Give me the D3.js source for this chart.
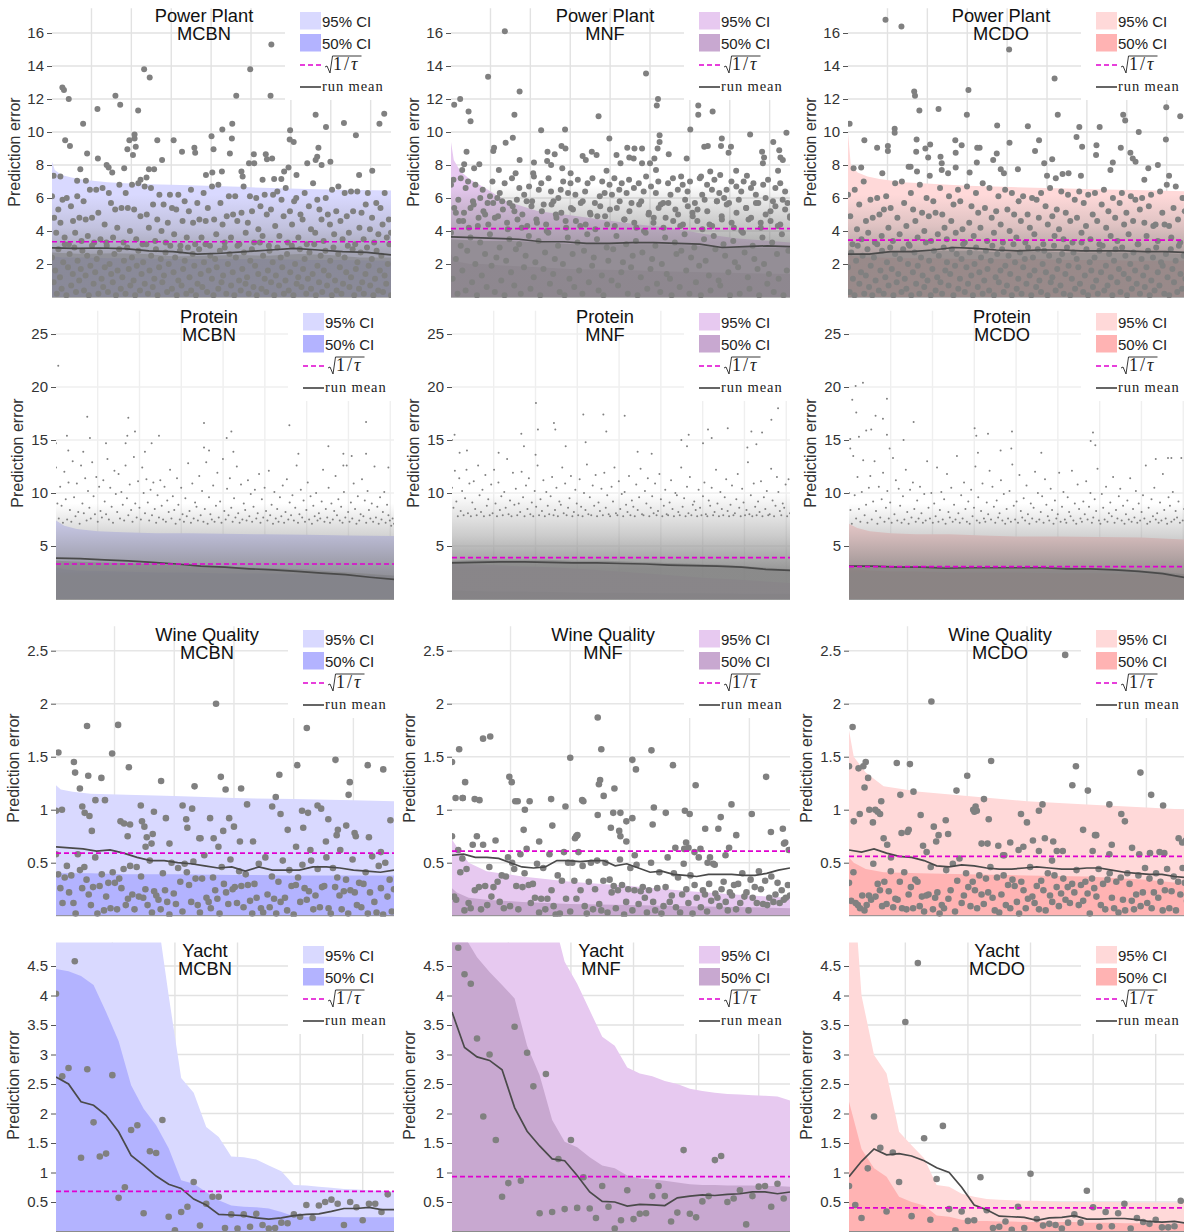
<!DOCTYPE html>
<meta charset="utf-8">
<style>
html, body { margin: 0; background: #fff; }
svg { display: block; }
.tick text { font: 15px "Liberation Sans", Arial, sans-serif; fill: #333; }
.tick line { stroke: #555; }
.title { font: 18.3px "Liberation Sans", Arial, sans-serif; fill: #111; text-anchor: middle; }
.ylabel { font: 16px "Liberation Sans", Arial, sans-serif; fill: #333; text-anchor: middle; }
.ci { font: 15px "Liberation Sans", Arial, sans-serif; fill: #222; }
.rm { font: 14.5px "Liberation Serif", serif; fill: #222; letter-spacing: .9px; }
.tau { font: 18px "Liberation Serif", serif; fill: #222; letter-spacing: 2px; }
</style>
<body>
<svg id="chart" width="1184" height="1232"></svg>
<script src="https://d3js.org/d3.v7.min.js"></script>
<script>
"use strict";

// Values. Where points overplot into a solid mass they can't be
// read one by one, so that mass is kept as a density shade (its upper edge and the levels
// where it thins out), and only points that can be told apart, plus a sample of the rest, are listed.

var methods = ["MCBN", "MNF", "MCDO"];
var datasets = ["Power Plant", "Protein", "Wine Quality", "Yacht"];

// ---- Power Plant
var ppKnots = [1, 8, 25, 50, 80, 140, 220, 300, 390, 470, 550, 640, 720, 851];
var ppMcbnHi = [8.2, 7.7, 7.4, 7.25, 7.1, 6.95, 6.85, 6.8, 6.75, 6.68, 6.6, 6.55, 6.5, 6.45];
var ppMcbnMid = [2.5, 2.45, 2.4, 2.4, 2.4, 2.35, 2.35, 2.3, 2.3, 2.3, 2.3, 2.25, 2.25, 2.2];
var ppMnfHi = [9.4, 8.3, 7.6, 7.1, 6.7, 5.8, 5.2, 4.95, 4.65, 4.4, 4.2, 3.8, 3.55, 3.3];
var ppMnfMid = [2.6, 2.3, 2.1, 2, 2, 1.9, 1.8, 1.7, 1.65, 1.6, 1.55, 1.5, 1.45, 1.4];
var ppMcdoHi = [10, 8, 7.55, 7.3, 7.15, 6.95, 6.85, 6.75, 6.68, 6.62, 6.58, 6.52, 6.48, 6.4];
var ppMcdoMid = [2.6, 2.5, 2.45, 2.4, 2.4, 2.35, 2.35, 2.3, 2.3, 2.3, 2.25, 2.25, 2.2, 2.2];
var ppMcbnMean = [2.98, 2.95, 2.97, 2.93, 2.8, 2.75, 2.6, 2.65, 2.75, 2.85, 2.95, 2.85, 2.75, 2.7, 2.55];
var ppMnfMean = [3.65, 3.6, 3.55, 3.5, 3.35, 3.35, 3.25, 3.25, 3.3, 3.3, 3.25, 3.2, 3, 3.05, 3.1, 3.05];
var ppMcdoMean = [2.6, 2.6, 2.75, 2.75, 2.85, 3, 2.95, 2.85, 2.8, 2.85, 2.85, 2.8, 2.8, 2.8, 2.75, 2.75, 2.7];
var ppTau = [3.35, 4.15, 3.45];
var ppMcbnLow = [2.7, 2.6, 2.65, 2.6, 2.45, 2.5, 2.55, 2.5, 2.6, 2.55, 2.4, 2.4];
var ppMnfLow = [3.5, 3.4, 3.4, 3.3, 3.2, 3.2, 3.2, 3.2, 3.1, 3, 3, 3];
var ppMcdoLow = [2.6, 2.7, 2.8, 2.8, 2.8, 2.7, 2.8, 2.7, 2.7, 2.7, 2.7, 2.6];
var ppMcbnFade = [2.6, 4.2, 6.2];
var ppMnfFade = [3.3, 5.4, 6.8];
var ppMcdoFade = [2.7, 4.3, 6.2];

var ppMcbnX = [551,549,498,232,246,27,31,43,160,172,115,217,463,79,34,46,89,116,190,195,208,208,211,204,265,306,277,327,358,360,401,406,428,453,452,447,507,495,508,537,540,553,597,598,607,662,688,733,763,822,834,669,666,662,677,641,699,594,804,771,152,138,72,5,22,64,86,143,182,244,257,223,238,387,403,427,476,479,583,614,558,576,529];
var ppMcbnY = [15.3,12.2,13.8,13.8,13.3,12.7,12.55,12,12.2,11.65,11.4,11.3,12.2,10.5,9.5,9.15,8.7,8.4,8.95,9.5,9.85,9.6,9.1,8.6,9.5,9.5,8.3,8.8,9.05,8.75,9.75,8.95,10.15,10.5,9.6,8.7,8.65,8.1,8.1,8.65,8.35,8.4,9.55,10.1,9.4,11.05,10.3,10.55,9.8,10.5,11.1,9.05,8.5,8.3,8,8.1,8.2,7.85,7.65,7.4,7.55,8,7.75,7.35,7.3,7.05,7.05,7.85,7.8,7.75,7.75,7.1,7.25,7.4,7.55,7.6,7.6,7.3,7.6,7.4,7.15,7.15,7.1];
var ppMcbnCloud = [6.1,4.8,3.9,5.3,4.5,5.9,3.6,6,3.2,5.5,4.6,3.9,6.1,4.8,3.4,5.8,4.7,3.7,6.5,4.8,3.3,6.5,5.1,3.5,6.6,4.4,3.1,6.3,5.7,3.6,5.3,4.2,6.8,5.4,3.3,6.3,5.4,4,6.8,5.3,3.5,6.9,4.9,3.2,6.7,5,4.2,6.6,5.6,3.4,4.7,6.2,4,5.6,3.3,4.5,6.2,5.4,3.8,5.3,6.2,3.1,4.6,5.8,3.6,5.2,6.5,4.5,3.2,5.7,4.7,3.6,6.3,4.6,5.4,3.1,6.7,4.7,3.8,6.8,5.7,4.4,3.3,4.9,6.1,3.6,5,6.1,4.6,3.2,5.1,6.7,3.9,4.5,6.1,5.2,3.3,6,4.1,5.5,3.7,6.2,5,3.1,5.3,6.2,4.3,6.4,3.7,5.9,4.9,6.6,3.3,5.2,4.4,5.8,6,3.6,5,4.7,6.3,3.2,5.5,4.1,6.9,3.9,5.9,5.3,4.7,3.4,6,5,4.4,6.5,3.8,5.2,6.7,4.6,3.5,6.3,4.9,3.9,6.4,5.2,3.2,6.4,4.2,5.1,3.5,5.6,6.3,4.1,4.8,3.3,5.7,3.8,5.4,4.4,6.3,3.6,4.7,3.9];
var ppMcbnCore = [2.4,0.9,1.6,0.2,2.9,1.2,0.5,2.1,3.2,0.1,1.8,2.6,0.7,1.4,3,0.3,2.2,1,1.7,2.8,0.4,1.3,2.5,0.1,1.9,3.1,0.8,1.5,2.3,0.2,2.7,1.1,0.6,1.8,3.3,0.3,2,1.4,0.9,2.6,0.1,1.6,2.9,0.5,1.2,2.2,0.2,3,1.7,0.7,2.4,1,0.1,1.9,2.8,0.4,1.4,2.1,0.8,3.2,0.2,1.6,2.5,0.6,1.1,2.9,0.1,1.8,2.3,0.9,1.3,2.7,0.3,2,3.1,0.5,1.5,2.4,0.1,1,2.8,0.7,1.7,2.2,0.2,3,1.2,0.4,2.6,1.9,0.1,0.8,2.9,1.4,0.6,2.1,3.2,0.3,1.6,2.5,1.1,0.1,2.3,1.8,0.5,2.8,0.9,1.3,3,0.2,2,2.6,0.7,1.5,0.1,2.4,3.1,1,0.4,1.7,2.7,0.8,1.2,0.2,2.2,2.9,0.6,1.9,0.1,1.4,3.3,0.5,2.5,1.1,0.3,1.6,2.8,0.9,2.1,0.1,1.3,3,0.7,2.4,1.8,0.2,1,2.6,0.4,1.5,3.1,0.1,2,0.8,1.2,2.9,0.6,1.7,2.3,0.2,1.1,2.7,0.5,1.4,3.2,0.1,1.9,0.9,2.5,0.3,1.6,2.8,0.7,1.3,2.2,0.1,3,1,0.4,2.6,1.8,0.2,0.8,2.4,1.5,3.1,0.6,1.2,2.9,0.1,1.7,2.1,0.5,2.7,0.9,0.2,1.4,3,1.9,0.7,2.3,0.1,1.1,2.8,0.4,1.6,2.5,0.3,1.3,0.8,2,3.2,0.1];

var ppMnfX = [136,94,173,490,520,517,24,9,45,50,160,227,287,371,398,621,621,657,601,680,751,842,524,524,519,156,138,40,109,107,278,288,173,209,243,242,261,252,331,339,354,366,416,426,443,461,448,459,480,480,500,511,547,592,636,645,678,703,697,781,786,783,809,824,827,833,821,34,29,59,72,121,163,207,301,280,391,515,578,628,651,676,716,743];
var ppMnfY = [16.1,13.35,12.45,13.55,12,11.6,12,11.65,11.25,10.65,11.05,10.1,10.15,10.95,9.6,11.6,11.05,11.25,10.15,9.6,9.85,9.95,9.8,9.4,9,9.65,9.35,8.8,9.05,8.85,9.15,9,8.3,8.15,8.8,8.25,8.65,8,8.55,8.3,8.8,8.6,8.6,8.1,9.05,9,8.45,8.4,9,8.1,8.1,8.4,8.65,8.4,9.1,9.15,9.15,9.1,8.75,8.8,8.45,8.1,9.4,8.9,8.45,8.3,7.65,8.05,7.7,7.8,8.05,7.7,7.5,7.5,7.5,7.8,7.65,7.7,7.3,7.3,7.6,7.4,7.65,7.35];
var ppMnfCloud = [6.8,7.1,5.1,5.9,7.2,4.6,6.6,7,5.4,5.8,6.8,4.3,6,6.5,5,5.7,6.1,7,4.8,6,6.3,5.8,6.9,4.5,5.7,7.2,5.2,5.9,6.6,4.2,6.2,5.8,6.7,5.5,7.3,4.7,6.5,6.9,5.6,4.4,7.2,6.4,5.8,5,6,6.5,7,4.6,6.3,6.9,5.3,6.2,7.1,4.3,5.8,6.4,6.9,5.1,7.2,5.7,4.9,6.1,7,6.3,4.4,6.8,6.2,7.2,5.4,6.5,6.9,4.7,6.3,7.1,5.7,6.6,4.2,6.9,5.8,6.4,7.3,5,6.7,4.5,6.3,7,5.6,5.7,4.8,6.9,6.2,7.2,5.3,6.5,4.3,6.8,5.9,6.4,7,5.1,5.7,4.6,7.2,6.2,5.9,6.8,4.4,6.5,7.1,5.8,6.3,4.9,6,6.5,5.7,7,4.2,6.7,5.9,6.4,7,5.4,4.7,6.6,6.9,6.2,5.7,4.5,6.8,6,7.1,5.2,5.8,6.6,4.3,6.9,5.9,6.4,5.7,4.8];
var ppMnfCore = [3.9,1.1,5.4,2.3,0.2,4.6,3.1,1.6,5.1,0.4,2.8,4.2,3.6,0.9,5.6,2,0.1,4.8,3.3,1.3,5.2,2.6,0.6,4.4,3.8,1.9,5.7,0.3,2.4,4.9,3,1,5.3,0.1,2.2,4.1,3.5,1.5,5.5,0.7,2.9,4.7,3.2,0.2,5,1.8,2.5,4.3,3.7,0.5,5.8,1.2,2.1,4.5,3.4,0.1,5.2,1.7,2.7,4,3.9,0.8,5.6,1.4,2.3,4.8,3.1,0.3,5.1,2,0.1,4.2,3.6,1.1,5.4,2.6,0.6,4.6,3.3,1.6,5.7,0.2,2.8,4.4,3.8,0.9,5,1.9,2.4,4.1,3.5,0.4,5.5,1.3,0.1,4.9,3,2.2,5.3,1,2.9,4.3,3.7,0.7,5.8,1.5,2.1,4.7,3.2,0.2,5.2,1.8,2.5,4.5,3.4,0.1,5.6,1.2,2.7,4,3.9,0.5,5.1,1.7,2.3,4.8,3.1,0.8,5.4,0.3,2,4.2,3.6,1.4,5.7,1.1,0.1,4.6,3.3,2.6,5,0.6,2.8,4.4,3.8,1.6,5.5,0.2,2.4,4.9,3,0.9,5.3,1.9,0.1,4.1,3.5,2.2,5.2,1.3,0.4,4.3,3.7,2.9,5.8,1,0.7,4.7,3.2,2.5,5.6,1.5,0.1,4.5,3.4,2.1,5.1,1.8,0.2,4,3.9,2.7,5.4,1.2,0.5,4.8,3.1,2.3,5.7,1.7,0.1,4.2,3.6,2,5,0.8,1.4,4.6,3.3,0.3,5.5,2.6,1.1,4.4,3.8,0.1,5.3,1.6,2.8,4.9];

var ppMcdoX = [95,135,405,519,303,167,169,180,228,299,527,691,696,799,834,375,452,581,632,730,5,118,118,42,173,270,480,574,798,406,74,101,101,172,195,207,271,286,325,331,588,624,685,470,623,709,715,722,233,202,374,365,324,236,271,513,493,665,778,15,34,153,158,236,252,306,384,427,392,659,754,806,87,174,206,585,500,539,554,522,744];
var ppMcdoY = [16.8,16.4,15,13.25,12.55,12.45,12.2,11.3,11.4,11.05,11.05,11.05,10.7,11.5,10.95,10.4,10.35,10.3,10.3,10,10.5,10.2,9.95,9.5,9.55,9.5,9.5,9.7,9.55,9.35,9.05,9.15,8.85,8.8,9,9.25,8.75,9.2,9.05,9.05,9.1,9.2,9.05,8.85,8.6,8.75,8.4,8.2,8.5,8.45,8.7,8.3,8.15,8.1,7.85,8.35,8.1,8.15,8,7.8,7.85,7.9,7.9,7.7,7.5,7.55,7.75,7.75,7.5,7.7,7.8,7.35,7.5,7.6,7.35,7.35,7.35,7.45,7.5,7.2,7.1];
var ppMcdoCloud = [6.2,4.9,3.2,6.5,4.1,5.6,3.5,7,4.6,3.9,5.9,4.8,3.3,6,5,3.7,5.3,6.1,4.2,5.4,3.4,6.9,4.8,3.8,7,5.7,4.3,3.2,6.3,5.3,4.6,3.6,6.8,5.1,4,6,4.9,3.4,5.8,5.1,3.8,6.6,5,4.2,3.5,6.1,4.6,5.6,3.9,6.5,5.8,4.1,3.3,6.7,4.5,5.5,3.7,6.3,5.1,4.2,6.9,5.4,3.4,6.6,4.8,3.9,5.2,6.1,4.4,3.3,6.5,5.3,4,6.3,5,3.6,5.8,4.6,6.1,3.3,5,4.2,6,3.8,5.9,4.8,6.3,3.2,5.5,4.4,6.6,4.9,3.7,5.3,4.1,6.4,3.5,5.1,6.2,4.6,3.3,5.9,4.8,6.4,3.9,5.7,4.3,6.2,3.5,5,6.3,4.6,3.2,5.6,6.5,4.2,5.2,3.7,6,4.8,3.4,5.7,6.3,4.4,5.1,3.8,6.1,4.6,5.9,3.2,5.3,6,4.5,3.7,5.5,6.2,4.3,4.4,3.4,6.4,5.1,4.4,6.8,4.3,3.6,5.4,6.7,4.7,3.3,6,5.2,4.1];
var ppMcdoCore = [1.8,0.3,2.7,1.1,0.1,2.2,3.1,0.8,1.5,2.5,0.2,1.3,2.9,0.6,1.9,0.1,2.4,1,3.2,0.4,1.6,2.8,0.2,1.2,2.1,0.7,3,1.7,0.1,2.6,0.9,1.4,2.3,0.3,2.9,1.1,0.5,2,3.1,0.1,1.5,2.7,0.8,1.9,0.2,2.4,1.3,0.6,3.3,1,2.2,0.1,1.7,2.8,0.4,1.2,2.5,0.9,0.2,3,1.6,2.1,0.7,1.4,2.9,0.1,1.9,2.6,0.5,1.1,2.3,3.2,0.3,1.8,0.8,2.7,1.3,0.1,2,3,0.6,1.5,2.4,0.2,1,2.8,1.7,0.4,2.2,3.1,0.1,1.2,2.6,0.9,1.6,2.9,0.3,1.9,0.7,2.5,1.4,0.1,3.2,2.1,0.5,1.1,2.7,0.2,1.8,2.3,0.8,3,1.3,0.1,2.4,1.6,0.6,2.9,1,0.3,2,2.8,1.5,0.1,2.5,0.9,1.2,3.1,0.4,1.7,2.2,0.7,2.6,0.2,1.4,3,1.9,0.1,1.1,2.7,0.5,2.3,1.8,0.8,3.3,0.3,1.3,2.9,0.1,2.1,1.6,0.6,2.4,1,0.2,2.8,1.5,3.1,0.4,1.9,0.7,2.6,1.2,0.1,2.2,2.9,0.9,1.7,0.3,3,1.4,2.5,0.1,1.1,2,0.5,2.7,1.6,0.8,3.2,0.2,2.3,1.3,0.6,1.8,2.8,0.1,1,2.4,0.4,3,1.5,0.7,2.1,1.9,0.2,2.6,1.2,0.1,2.9,1.7,0.9,2.2,0.3,3.1,1.4,0.5,2.5,1.1,0.1];

// ---- Protein
var protKnots = [1, 100, 250, 500, 800, 1200, 1600, 2000, 2500, 3000, 3500, 4045];
var protMcbnHi = [7.4, 6.9, 6.6, 6.4, 6.3, 6.2, 6.2, 6.15, 6.1, 6.05, 6, 5.95];
var protMcbnMid = [3, 2.8, 2.7, 2.65, 2.6, 2.5, 2.5, 2.4, 2.4, 2.3, 2.3, 2.2];
var protMnfHi = [3.3, 3.3, 3.25, 3.2, 3.1, 3, 2.8, 2.6, 2.3, 2, 1.8, 1.5];
var protMnfMid = [0.8, 0.8, 0.75, 0.7, 0.7, 0.65, 0.6, 0.6, 0.55, 0.55, 0.5, 0.5];
var protMcdoHi = [7.1, 6.7, 6.4, 6.2, 6.1, 6.1, 6, 5.9, 5.9, 5.85, 5.8, 5.6];
var protMcdoMid = [3, 2.8, 2.7, 2.6, 2.6, 2.5, 2.5, 2.5, 2.4, 2.4, 2.3, 2.3];
var protMcbnMean = [3.85, 3.8, 3.7, 3.6, 3.45, 3.3, 3.1, 3, 2.85, 2.75, 2.6, 2.45, 2.3, 2.05, 1.85];
var protMnfMean = [3.4, 3.45, 3.5, 3.5, 3.45, 3.4, 3.4, 3.35, 3.3, 3.2, 3.15, 3.1, 3, 2.8, 2.7];
var protMcdoMean = [3.1, 3.1, 3, 3, 2.9, 2.95, 2.95, 2.95, 2.95, 2.85, 2.85, 2.75, 2.6, 2.4, 2];
var protTau = [3.3, 3.9, 3.05];
var protMcbnLow = [3.6, 3.5, 3.4, 3.3, 3.2, 3.1, 3, 2.9, 2.8, 2.6, 2.4, 2.2];
var protMnfLow = [3.6, 3.7, 3.7, 3.7, 3.6, 3.6, 3.5, 3.4, 3.3, 3.2, 3, 2.8];
var protMcdoLow = [3.2, 3.1, 3.1, 3.1, 3, 3, 3, 3, 2.9, 2.8, 2.6, 2.3];
var protMcbnFade = [2.2, 5.5, 9];
var protMnfFade = [2.8, 6, 10];
var protMcdoFade = [2.4, 5.5, 9];

var protMcbnX = [28,375,866,2793,1772,3711,946,854,132,407,1233,2099,2043,0,599,834,1145,3260,3711,1772,1832,148,327,1065,2123,2901,3439,3539,3439,3978];
var protMcbnY = [22,17.2,17.1,16.4,16.6,16.7,15.8,15.4,15.4,15.2,15.4,15.8,15.2,14.7,14.7,14.7,14.7,14.4,13.7,14.3,14,14,13.9,13.9,13.9,13.7,13.7,13.5,12.6,12.4];
var protMcbnCloud = [12.4,9,7.6,10.6,8.8,7.2,12,9.4,7.5,11,8.4,7.3,13,9.6,7.8,10.9,8.2,7.1,12.6,9,8.1,11.4,7.4,10.2,8.6,7.6,12.9,9.7,8,11.5,7.3,10.6,8.3,7.7,11.2,9.2,8,13.2,7.5,10.5,8.7,7.2,12.1,9.9,8.2,11.8,7.6,10.1,8.9,7.4,12.6,9.5,7.9,10.8,8.4,7.3,13.4,9,7.7,11.1,8.6,7.5,12.4,10,8.1,11.3,9.1,7.4,10.3,7.9,11,8.5,7.2,9.8,7.7,11.2,8.8,7.5,10.6,7.3,9.3,8.2,12.2,7.6,9.7,8.4,7.1,11.4,8.9,7.5,10.5,8,7.3,9.5,7.8,12.8,8.3,7.2,10.9,7.6,9.1,8.7,7.4,11.6,7.9,10.2,7.3,8.5,12.9,7.1,9.6,8,7.5,10.7,7.3,8.8,11.9,7.7,9.2,7.2,13.2,8.3,7.5,10.4,7.9,11.4,8.6,7.3,9.5,7.7,12.5,8.1,7.2,10.8,7.5,9,8.4,7.4,11.2,7.8,9.9,7.3,8.7,10.3,7.6,8.1,11.8,7.2,9.4,7.7,10.5,8.3,7.4,12.1,7.9,8.9,7.1,10.1,7.6,8.5,7.3,9.6,7.8,10.7,7.2,8.2,11.3,7.5,9.1,7.9,9.8,7.4,8.6,12.6,7.2,8,10.3,7.7,9.3,7.3,8.4,11,7.5,9.7,7.1,8.8,7.8,10,7.4,8.1,7.6,9.2,12.2,7.3,8.5,7.7,10.5,7.2,9,7.5,8.3,11.6,7.9,9.4,7.4,8.7,7.2,10.1,7.7,12.6,8.2,7.3,9.1,7.6,10.9,8.5,7.1,9.7,7.4,8,11.3,7.8,9.3,7.2,10.2,8.4,7.6,9,7.3,12.5,7.7,8.7,7.1,9.6,7.5,8.2,10.1,7.2,8.9,7.9,7.4,6.9,7.6,7.1];

var protMnfX = [1005,3902,1572,1812,2067,1221,1237,1029,3822,3064,3300,3583,1847,32,2833,3711,830,0,2745,1600,3643,3004,862,1361,2813,3108,3535,180,92,559,2222,2390,1001];
var protMnfY = [18.5,18,17.4,17.4,17.3,16.6,16,16,16.9,16,16.1,15.8,15.8,15.5,15.5,15.7,15.6,15,15,14.8,14.6,14.7,14.4,14.4,14.4,15.2,14.3,14,13.8,13.8,13.9,13.7,13.6];
var protMnfCloud = [10.5,8.6,12.1,9.2,7.8,11.4,8.3,10.2,7.9,9.5,12.2,8.1,10.9,7.8,9.1,11.1,8.5,7.9,12.6,9.8,8.2,10.3,7.8,11.7,8.8,9.4,7.9,10.8,8.1,12.2,9,7.8,11,8.4,9.7,7.9,10.1,8.6,13.2,8,9.3,7.8,11.9,8.9,10.4,7.9,9,8.2,12,9.6,7.8,10.7,8.5,11.4,8,9.1,7.8,10.2,8.7,12.6,7.9,9.4,8.3,11.2,7.8,10.1,8.8,8,9.7,11.5,7.9,8.4,10.5,7.8,9.2,8.9,12.4,8.1,10.9,7.9,8.6,9.5,11.6,7.8,8.2,10.3,9,7.9,11.3,8.7,7.8,10,8.4,12.7,8,9.6,7.9,10.7,8.8,11.7,7.8,9.1,8.3,10.4,7.9,11.9,8.6,9.8,8,7.8,10.6,9.2,12.4,8.1,7.9,11.1,8.5,9.9,7.8,10.1,8.9,8.2,11.6,7.9,9.3,8.7,7.8,10.8,8.4,9.6,12.3,8,7.9,10.2,9,11.4,7.8,8.6,9.7,8.1,10.9,7.9,8.3,11.8,9.4,7.8,8.8,10.3,8,7.9,9.1,11.2,8.5,7.8,10,9.8,8.2,7.9,12.4,8.7,9.5,7.8,10.6,8.1,11.5,7.9,8.9,9.2,8.4,7.8,10.3,8.6,7.9,9.7,11,8,7.8,9.3,8.8,10.5,7.9,8.2,12.2,9,7.8,10.1,8.5,7.9,9.6,11.3,8.3,7.8,8.9,10.7,7.9,8.1,9.4,11.8,8.6,7.8,10.4,9.1,7.9,8.4,12.9,8,9.8,7.8,10.9,8.7,7.9,9.2,8.2,11.1,7.8,9.6,8.5,10.2,7.9,8,12.3,9.3,7.8,8.8,11.5,10.1,8.3,7.9,9,8.6,10.8,7.8,11.3,8.1];

var protMcdoX = [168,80,40,455,88,319,407,774,1504,1524,1664,1951,207,267,2920,455,120,16,2893,654,2948,1943,16,1815,487,1544,2302,3671,3818,3858];
var protMcdoY = [20.4,20.1,18.8,18.9,17.6,17.3,17,16.7,16.1,15.4,15.6,15.8,15.9,16,15.7,15.5,15.3,15.1,14.9,15,14.5,14.2,14.2,14,14.2,13.8,13.8,13.2,13.3,13.3];
var protMcdoCloud = [10,8.4,7.1,13.5,9.8,7.6,11.5,8.5,7.3,10.1,13.1,7.9,8.9,7.2,10.5,11.6,7.5,9.2,13,8.3,7.1,10.6,7.7,9.4,11.9,7.3,8.6,10.2,7.6,9.1,7.2,13.3,8,11.2,7.4,10.4,8.8,7.2,9.7,7.5,12.2,8.2,7.1,10.3,7.7,11,8.5,7.3,9.3,7.6,10.6,8.1,7.2,9.9,7.4,13,8.6,7.6,10,7.2,9,7.8,12.4,7.3,8.4,10.1,7.5,9.4,7.1,11.8,8.2,7.7,10.5,7.3,8.9,7.5,13.5,8.1,7.2,9.8,7.6,11,8.5,7.3,9.2,7.1,10.3,7.8,8.6,12.5,7.4,9.6,7.2,8.3,10.9,7.6,7.3,9.1,8,12.1,7.5,10.6,8.7,7.2,9.3,7.7,8.1,11.2,7.4,9.9,7.1,8.5,7.6,10.2,7.3,12.7,8.8,7.5,9.2,7.2,11.7,8.3,7.7,9.5,7.4,10.7,8,7.1,9,7.6,8.6,12,7.3,10,7.5,8.2,9.7,7.2,11.3,8.9,7.8,7.4,10.4,8.4,7.1,9.3,7.6,8,11.9,7.3,8.7,10.1,7.5,7.2,9.6,8.2,7.8,12.1,7.4,9,7.1,10.8,8.5,7.6,7.3,9.2,8,11.1,7.5,8.7,10,7.2,7.7,9.4,8.3,12.3,7.4,7.1,9.9,8.6,7.5,10.6,7.3,8.1,9.1,7.8,11.5,7.2,8.4,7.6,9.7,10.4,7.4,8.8,7.1,8,9.3,7.5,11.4,7.3,8.5,7.7,10.2,7.2,9,7.4,8.2,9.8,7.6,12.6,7.1,8.6,7.3,9.4,7.8,10.5,7.5,8.1,7.2,9.1,7.4,11.8,8.4,7.6,7.1,9.6,8.8,7.3,10.1,7.5,8.3,7.7,9.2,7.2,13.3,7.4,8.5,7.1,11.7];

// ---- Wine Quality
var wineKnots = [1, 5, 15, 30, 60, 100, 150, 200, 250, 284];
var wineMcbnHi = [1.23, 1.19, 1.17, 1.15, 1.14, 1.13, 1.11, 1.1, 1.09, 1.08];
var wineMcbnMid = [0.41, 0.4, 0.4, 0.4, 0.39, 0.39, 0.385, 0.38, 0.38, 0.38];
var wineMnfHi = [0.72, 0.65, 0.5, 0.42, 0.37, 0.32, 0.28, 0.23, 0.19, 0.17];
var wineMnfMid = [0.26, 0.22, 0.17, 0.15, 0.13, 0.11, 0.1, 0.09, 0.08, 0.07];
var wineMcdoHi = [1.75, 1.5, 1.35, 1.22, 1.17, 1.13, 1.08, 1.05, 1.02, 1];
var wineMcdoMid = [0.55, 0.5, 0.44, 0.41, 0.4, 0.39, 0.38, 0.37, 0.34, 0.3];
var wineMcbnMean = [0.65, 0.64, 0.63, 0.61, 0.62, 0.59, 0.55, 0.52, 0.52, 0.5, 0.49, 0.47, 0.45, 0.46, 0.42, 0.46, 0.43, 0.43, 0.43, 0.46, 0.46, 0.45, 0.43, 0.42, 0.41, 0.43];
var wineMnfMean = [0.57, 0.58, 0.55, 0.55, 0.54, 0.5, 0.46, 0.45, 0.46, 0.52, 0.52, 0.51, 0.52, 0.52, 0.47, 0.49, 0.45, 0.41, 0.42, 0.39, 0.38, 0.37, 0.39, 0.39, 0.39, 0.38, 0.38, 0.4, 0.43, 0.45];
var wineMcdoMean = [0.62, 0.6, 0.63, 0.59, 0.56, 0.55, 0.52, 0.47, 0.46, 0.48, 0.47, 0.45, 0.44, 0.44, 0.45, 0.46, 0.45, 0.44, 0.44, 0.45, 0.45, 0.43, 0.41, 0.4, 0.39, 0.39, 0.37, 0.36];
var wineTau = [0.59, 0.61, 0.56];

var wineMcbnX = [3,1,6,16,17,27,28,21,23,25,29,31,34,39,42,48,53,62,55,58,63,61,72,73,75,77,76,83,82,81,89,93,96,107,110,111,115,117,121,122,130,135,139,133,137,143,141,146,150,156,155,161,166,182,185,188,189,195,202,203,207,208,212,211,214,220,223,229,227,235,237,236,239,244,246,247,251,252,262,263,275,281,273];
var wineMcbnY = [1.54,0.99,1,1.45,1.35,1.79,1.32,1.2,1.03,0.97,0.94,0.8,1.09,1.3,1.09,1.53,1.8,1.4,0.89,0.87,0.86,0.75,1.04,0.89,0.84,0.74,0.65,0.98,0.77,0.68,1.27,0.92,0.68,1.04,0.91,0.83,1.01,1.22,0.73,0.73,0.92,2,1.31,0.73,0.65,1.19,0.8,0.92,0.84,1.2,0.7,1.05,0.7,1.03,1.12,1.33,0.96,0.81,0.65,1.42,0.99,0.83,0.97,1.77,0.62,1.04,1.01,0.91,0.7,1.47,0.81,0.76,0.62,0.85,1.14,1.26,0.78,0.75,1.42,0.74,1.38,0.9,0.6];
var wineMcbnCloud = [0.58,0.39,0.26,0.12,0.36,0.47,0.22,0.38,0.12,0.02,0.58,0.43,0.26,0.46,0.34,0.2,0.1,0.27,0.55,0.02,0.28,0.39,0.05,0.18,0.31,0.07,0.41,0.31,0.06,0.35,0.26,0.44,0.1,0.16,0.47,0.2,0.06,0.46,0.18,0.37,0.17,0.25,0.1,0.52,0.03,0.23,0.19,0.15,0.06,0.4,0.24,0.13,0.01,0.5,0.21,0.11,0.45,0.32,0.04,0.49,0.41,0.29,0.13,0.51,0.35,0.1,0.03,0.35,0.57,0.17,0.13,0.07,0.36,0.24,0.16,0.02,0.46,0.3,0.22,0.11,0.53,0.25,0.27,0.12,0.42,0.28,0.08,0.39,0.29,0.14,0.02,0.3,0.17,0.49,0.07,0.03,0.55,0.2,0.08,0.37,0.16,0.02,0.32,0.13,0.52,0.17,0.05,0.43,0.28,0.01,0.29,0.36,0.13,0.48,0.26,0.15,0.23,0.52,0.06,0.19,0.44,0.08,0.27,0.28,0.55,0.07,0.02,0.45,0.27,0.36,0.19,0.06,0.23,0.34,0.02,0.24,0.53,0.22,0.1,0.31,0.08,0.3,0.41,0.02,0.22,0.56,0.13,0.03,0.47,0.26,0.01,0.5,0.18,0.34,0.04,0.25];

var wineMnfX = [1,4,7,10,10,12,20,24,27,33,49,51,54,56,62,61,66,74,84,85,96,100,105,104,106,111,110,123,126,124,125,123,128,136,137,134,141,142,142,147,152,147,152,155,154,168,169,170,180,186,188,196,200,197,205,213,224,226,235,239,233,252,264,268,278,279,280,283,195,199,209,217,215,204,221,230];
var wineMnfY = [1.45,1.11,1.57,1.11,1.11,1.26,1.1,1.09,1.67,1.69,1.31,1.26,1.08,1.08,1,0.81,1.08,0.7,1.1,0.85,1.03,1.49,0.75,0.73,0.76,1.08,1.09,1.87,1.57,1.24,1.28,0.95,1.13,0.97,1.2,0.83,0.8,0.97,0.75,0.89,0.92,0.7,1.47,1.38,0.57,1.56,0.86,1.02,0.97,1.42,0.64,0.99,0.96,0.69,1.23,0.82,0.82,0.93,1.05,0.76,0.64,0.96,1.31,0.79,0.82,0.68,0.69,0.62,0.49,0.64,0.63,0.55,0.5,0.6,0.48,0.57];
var wineMnfCloud = [0.75,0.18,0.15,0.62,0.41,0.54,0.05,0.44,0.12,0.07,0.67,0.24,0.75,0.27,0.06,0.67,0.28,0.1,0.46,0.18,0.27,0.71,0.32,0.13,0.38,0.07,0.37,0.55,0.09,0.5,0.44,0.28,0.06,0.58,0.27,0.4,0.63,0.29,0.12,0.3,0.17,0.49,0.03,0.16,0.45,0.06,0.16,0.58,0.24,0.09,0.01,0.38,0.02,0.33,0.6,0.16,0.5,0.04,0.5,0.33,0.16,0.6,0.24,0.47,0.09,0.02,0.32,0.5,0.06,0.25,0.52,0.11,0.05,0.33,0.5,0.03,0.34,0.22,0.28,0.07,0.24,0.53,0.29,0.01,0.13,0.25,0.45,0.05,0.24,0.48,0.11,0.23,0.27,0.17,0.03,0.24,0.5,0.13,0.05,0.26,0.41,0.02,0.09,0.27,0.55,0.13,0.19,0.4,0.08,0.36,0.03,0.2,0.63,0.25,0.12,0.38,0.02,0.29,0.17,0.55,0.08,0.24,0.2,0.04,0.3,0.14,0.49,0.21,0.17,0.09,0.25,0.32,0.13,0.05,0.22,0.19,0.29,0.06,0.3,0.12,0.4,0.18,0.22,0.05,0.34,0.17,0.27,0.12,0.42,0.25,0.11,0.33,0.1,0.17,0.37,0.13,0.2,0.31,0.12,0.24,0.15,0.17,0.29,0.19];

var wineMcdoX = [1,4,5,9,10,13,14,15,17,18,21,23,25,27,28,30,33,36,41,44,45,52,55,50,51,61,63,66,70,72,74,76,82,84,91,100,106,107,108,105,114,118,120,117,112,126,130,131,136,145,150,160,163,165,172,175,180,182,188,191,197,201,205,207,208,219,221,229,232,245,244,254,253,264,265,277,280,283,143,147,155,160,171,219,238,261];
var wineMcdoY = [1.41,1.78,0.89,1.39,0.96,1.41,1.21,1.45,1.3,1,0.88,1,0.98,0.96,1.08,0.73,0.67,0.42,1.44,1.14,0.78,1.43,1.17,0.79,0.81,0.95,0.66,0.6,2.02,0.84,0.7,0.76,0.9,0.77,1.18,1.32,0.98,1.03,0.99,1,1.1,0.91,1.46,0.68,0.68,0.66,0.57,0.57,0.69,0.96,0.88,0.99,1.05,0.73,0.7,0.61,0.61,2.46,1.23,1.41,0.81,1.18,0.61,0.76,0.76,1.05,0.67,0.96,0.89,1.35,0.58,1.14,0.59,1.04,0.59,0.73,0.69,0.71,0.62,0.65,0.71,0.61,0.52,0.58,0.64,0.6];
var wineMcdoCloud = [0.31,0.14,0.41,0.12,0.1,0.07,0.19,0.05,0.1,0.19,0.15,0.49,0.18,0.3,0.24,0.09,0.32,0.11,0.23,0.55,0.08,0.16,0.15,0.32,0.07,0.41,0.06,0.2,0.27,0.07,0.34,0.32,0.09,0.18,0.04,0.19,0.2,0.46,0.06,0.17,0.22,0.02,0.1,0.07,0.43,0.16,0.24,0.49,0.04,0.33,0.54,0.12,0.19,0.4,0.27,0.09,0.32,0.24,0.07,0.38,0.2,0.11,0.35,0.22,0.46,0.17,0.05,0.36,0.03,0.2,0.38,0.1,0.29,0.07,0.34,0.28,0.13,0.02,0.32,0.24,0.07,0.16,0.46,0.18,0.12,0.28,0.06,0.33,0.24,0.05,0.4,0.19,0.13,0.38,0.27,0.09,0.21,0.35,0.15,0.27,0.12,0.3,0.22,0.43,0.1,0.29,0.14,0.32,0.21,0.02,0.35,0.26,0.18,0.44,0.1,0.3,0.06,0.34,0.4,0.17,0.07,0.32,0.03,0.36,0.15,0.05,0.4,0.3,0.14,0.06,0.2,0.38,0.09,0.22,0.45,0.12,0.35,0.07,0.22,0.4,0.17,0.32,0.05,0.24,0.44,0.07,0.23,0.37,0.05,0.32,0.2,0.45,0.31,0.14];

// ---- Yacht, one upper edge value per two points, read left to right
var yachtKnots = [1,3,5,7,9,11,13,15,17,19,21,23,25,27,29,31,33,35,37,39,41,43,45,47,49,51,53,55];
var yachtMcbnHi = [7,7,7,7,7,7,7,7,5.5,4,2.6,2.35,1.77,1.6,1.27,1.26,1.22,1.12,1.02,0.79,0.78,0.76,0.74,0.72,0.71,0.7,0.69,0.68];
var yachtMcbnMid = [4.45,4.41,4.33,4.18,3.72,3.23,2.48,2.08,1.8,1.41,0.87,0.81,0.67,0.53,0.44,0.42,0.41,0.39,0.33,0.26,0.25,0.25,0.25,0.24,0.24,0.24,0.24,0.24];
var yachtMnfHi = [7,7,7,7,7,7,7,7,5.4,4.57,4.2,3.75,3.3,3.15,2.78,2.68,2.63,2.55,2.5,2.42,2.38,2.35,2.33,2.32,2.31,2.3,2.29,2.22];
var yachtMnfMid = [7,5,4.65,4.4,4.18,3.95,3.15,2.65,1.89,1.52,1.43,1.26,1.12,1.07,0.95,0.9,0.88,0.86,0.83,0.8,0.79,0.79,0.78,0.78,0.78,0.77,0.77,0.76];
var yachtMcdoHi = [7,4,2.99,2.68,1.69,1.46,1.24,0.79,0.76,0.64,0.59,0.55,0.54,0.53,0.52,0.52,0.51,0.5,0.5,0.5,0.5,0.5,0.49,0.49,0.49,0.49,0.49,0.49];
var yachtMcdoMid = [2.2,1.4,1.07,0.93,0.59,0.5,0.44,0.27,0.25,0.2,0.18,0.18,0.17,0.17,0.16,0.16,0.16,0.16,0.16,0.15,0.15,0.15,0.14,0.14,0.14,0.14,0.13,0.13];
var yachtMcbnMean = [2.62,2.5,2.2,2.14,1.97,1.69,1.29,1.12,0.94,0.8,0.73,0.55,0.45,0.29,0.28,0.27,0.23,0.21,0.23,0.27,0.29,0.3,0.34,0.39,0.39,0.41,0.37,0.37];
var yachtMnfMean = [3.72,3.12,2.96,2.9,2.74,2.1,1.7,1.45,1.23,1.2,0.95,0.67,0.51,0.5,0.43,0.46,0.45,0.44,0.57,0.6,0.62,0.61,0.63,0.64,0.67,0.67,0.64,0.67];
var yachtMcdoMean = [0.93,1.19,1.4,1.3,1.32,1.28,1.2,1.08,1,0.75,0.45,0.37,0.26,0.25,0.24,0.19,0.23,0.24,0.27,0.21,0.21,0.22,0.22,0.2,0.17,0.16,0.17,0.14];
var yachtTau = [0.68, 0.93, 0.4];
var yachtMcbnErr = [4.03,2.63,2.77,4.58,1.25,2.75,1.85,1.27,1.32,2.65,0.57,0.75,1.72,1.8,0.31,1.36,1.33,1.89,0.25,0.02,0.33,0.42,0.84,0.1,0.47,0.59,0.59,0.06,0.29,0.05,0.29,0.08,0.3,0.11,0.05,0.06,0.15,0.14,0.29,0.25,0.45,0.23,0.44,0.5,0.54,0.47,0.11,0.5,0.41,0.19,0.47,0.47,0.33,0.63];
var yachtMnfErr = [4.81,4.36,4.2,3.27,1.95,3,1.55,0.59,0.82,3.47,0.86,3.03,2.46,0.31,2.67,0.33,1.23,0.38,1.55,0.4,0.92,0.39,0.23,0.77,0.42,0.05,0.19,0.7,0.21,0.3,0.31,0.6,0.77,0.6,0.17,0.32,1.38,0.3,0.24,0.51,0.6,1.21,1.28,0.5,0.56,0.7,0.12,0.6,0.76,0.77,0.42,0.81,0.56];
var yachtMcdoErr = [0.77,0.45,0.23,1.07,1.95,1.42,0.34,1.34,0.84,3.55,0.26,4.55,1.58,0.2,0.89,1.79,0.38,0.02,0.34,0.18,0.19,0.92,0.36,0.06,0.08,0.17,0.03,0.42,0.06,0.98,0.21,0.1,0.13,0.11,0.05,0.15,0.29,0.15,0.69,0.41,0.08,0.33,0.09,0.31,0.47,0.05,0.23,0.16,0.13,0.2,0.07,0.07,0.09,0.52];

var powerTicks = [2, 4, 6, 8, 10, 12, 14, 16];
var proteinTicks = [5, 10, 15, 20, 25];
var wineTicks = [0.5, 1, 1.5, 2, 2.5];
var yachtTicks = [0.5, 1, 1.5, 2, 2.5, 3, 3.5, 4, 4.5];

// fills per method: 95% then 50%
var fills = [["#d9d9ff", "#b3b3ff"], ["#e7c9f0", "#c8a8d0"], ["#ffd9d9", "#ffb3b3"]];

// layout of the rows: pixel boxes, not data
var rows = [
  { n: 851, step: 100, top: 17.5, y0: 297, y1: 8.25, x0: [52, 451, 848], x1: [391, 790, 1187], sw: [300, 699, 1096],
    lt: 12, titleY: 22, tx: [204, 605, 1001], lab: [15, 414, 811], labY: 152, ticks: powerTicks, r: 3, grid: "#e2e2e2",
    knots: ppKnots, tau: ppTau,
    hi: [ppMcbnHi, ppMnfHi, ppMcdoHi], mid: [ppMcbnMid, ppMnfMid, ppMcdoMid], mean: [ppMcbnMean, ppMnfMean, ppMcdoMean],
    xs: [ppMcbnX, ppMnfX, ppMcdoX], ys: [ppMcbnY, ppMnfY, ppMcdoY], cloud: [ppMcbnCloud, ppMnfCloud, ppMcdoCloud],
    core: [ppMcbnCore, ppMnfCore, ppMcdoCore],
    low: [ppMcbnLow, ppMnfLow, ppMcdoLow], fade: [ppMcbnFade, ppMnfFade, ppMcdoFade], lowOp: 0.5, shade: [0.6, 0.26] },
  { n: 4045, step: 500, top: 27.2, y0: 599, y1: 310.7, x0: [56, 452, 849], x1: [394, 790, 1187], sw: [303, 699, 1096],
    lt: 313, titleY: 323, tx: [209, 605, 1002], lab: [18, 414, 811], labY: 453, ticks: proteinTicks, r: 1, grid: "#efefef",
    knots: protKnots, tau: protTau,
    hi: [protMcbnHi, protMnfHi, protMcdoHi], mid: [protMcbnMid, protMnfMid, protMcdoMid], mean: [protMcbnMean, protMnfMean, protMcdoMean],
    xs: [protMcbnX, protMnfX, protMcdoX], ys: [protMcbnY, protMnfY, protMcdoY], cloud: [protMcbnCloud, protMnfCloud, protMcdoCloud],
    low: [protMcbnLow, protMnfLow, protMcdoLow], fade: [protMcbnFade, protMnfFade, protMcdoFade], lowOp: 0.55, shade: [0.8, 0.4] },
  { n: 284, step: 50, top: 2.73, y0: 915.7, y1: 626.3, x0: [56, 452, 849], x1: [394, 790, 1187], sw: [303, 699, 1096],
    lt: 630, titleY: 641, tx: [207, 603, 1000], lab: [14, 410, 807], labY: 768, ticks: wineTicks, r: 3.3, grid: "#e6e6e6", base: true,
    knots: wineKnots, tau: wineTau,
    hi: [wineMcbnHi, wineMnfHi, wineMcdoHi], mid: [wineMcbnMid, wineMnfMid, wineMcdoMid], mean: [wineMcbnMean, wineMnfMean, wineMcdoMean],
    xs: [wineMcbnX, wineMnfX, wineMcdoX], ys: [wineMcbnY, wineMnfY, wineMcdoY], cloud: [wineMcbnCloud, wineMnfCloud, wineMcdoCloud] },
  { n: 55, step: 10, top: 4.9, y0: 1231.5, y1: 942.4, x0: [56, 452, 849], x1: [394, 790, 1187], sw: [303, 699, 1096],
    lt: 946, titleY: 957, tx: [205, 601, 997], lab: [14, 410, 807], labY: 1085, ticks: yachtTicks, r: 3.3, grid: "#e2e2e2", base: true,
    knots: yachtKnots, tau: yachtTau,
    hi: [yachtMcbnHi, yachtMnfHi, yachtMcdoHi], mid: [yachtMcbnMid, yachtMnfMid, yachtMcdoMid], mean: [yachtMcbnMean, yachtMnfMean, yachtMcdoMean],
    err: [yachtMcbnErr, yachtMnfErr, yachtMcdoErr], first: [1, 2, 1] }
];

var svg = d3.select("#chart");
var defs = svg.append("defs");

rows.forEach(function (row, r) {
  methods.forEach(function (method, m) {
    drawPanel(row, r, m, method);
  });
});

function drawPanel(row, r, m, method) {
  var x0 = row.x0[m], x1 = row.x1[m];
  var x = d3.scaleLinear().domain([1, row.n]).range([x0, x1]);
  var y = d3.scaleLinear().domain([0, row.top]).range([row.y0, row.y1]);
  var g = svg.append("g");
  var clipId = "clip" + r + m;

  defs.append("clipPath").attr("id", clipId).append("rect")
    .attr("x", x0).attr("y", row.y1)
    .attr("width", Math.min(x1, 1184) - x0).attr("height", row.y0 - row.y1 + 1);

  // grid
  var vTicks = d3.range(row.step, row.n, row.step);
  g.selectAll(".gx").data(vTicks).enter().append("line")
    .attr("x1", x).attr("x2", x).attr("y1", row.y1).attr("y2", row.y0)
    .attr("stroke", row.grid).attr("stroke-width", 1.4);
  g.selectAll(".gy").data(row.ticks).enter().append("line")
    .attr("x1", x0).attr("x2", x1).attr("y1", y).attr("y2", y)
    .attr("stroke", row.grid).attr("stroke-width", 1.4);

  var plot = g.append("g").attr("clip-path", "url(#" + clipId + ")");
  var spread = function (i, len) { return 1 + i * (row.n - 1) / (len - 1); };

  // credible intervals from zero up to the upper edge
  var ciArea = d3.area()
    .x(function (d, i) { return x(row.knots[i]); })
    .y0(y(0)).y1(function (d) { return y(d); });
  plot.append("path").attr("d", ciArea(row.hi[m])).attr("fill", fills[m][0]);
  plot.append("path").attr("d", ciArea(row.mid[m])).attr("fill", fills[m][1]);

  // overplotted mass: a shade thinning out with height, then the slanting solid part
  if (row.low) {
    var fade = row.fade[m], gradId = "fade" + r + m;
    var grad = defs.append("linearGradient").attr("id", gradId)
      .attr("gradientUnits", "userSpaceOnUse")
      .attr("x1", 0).attr("x2", 0).attr("y1", y(0)).attr("y2", y(fade[2]));
    [row.shade[0], row.shade[1], 0].forEach(function (op, i) {
      grad.append("stop").attr("offset", fade[i] / fade[2])
        .attr("stop-color", "#7f7f7f").attr("stop-opacity", op);
    });
    plot.append("rect").attr("x", x0).attr("width", x1 - x0)
      .attr("y", y(fade[2])).attr("height", y(0) - y(fade[2]) + 1)
      .attr("fill", "url(#" + gradId + ")");

    var lowVals = row.low[m];
    var lowArea = d3.area()
      .x(function (d, i) { return x(spread(i, lowVals.length)); })
      .y0(y(0)).y1(function (d) { return y(d); });
    plot.append("path").attr("d", lowArea(lowVals)).attr("fill", "#7f7f7f").attr("fill-opacity", row.lowOp);
  }

  // points
  var pts = [];
  if (row.err) {
    row.err[m].forEach(function (v, i) { pts.push([i + row.first[m], v]); });
  } else {
    row.cloud[m].forEach(function (v, i) { pts.push([spread(i, row.cloud[m].length), v]); });
    if (row.core) {
      row.core[m].forEach(function (v, i) { pts.push([spread(i, row.core[m].length), v]); });
    }
    row.ys[m].forEach(function (v, i) { pts.push([row.xs[m][i], v]); });
  }
  plot.selectAll("circle").data(pts).enter().append("circle")
    .attr("cx", function (d) { return x(d[0]); })
    .attr("cy", function (d) { return y(d[1]); })
    .attr("r", row.r).attr("fill", "#808080");

  // running mean and sqrt(1/tau)
  var meanVals = row.mean[m];
  var meanLine = d3.line()
    .x(function (d, i) { return x(spread(i, meanVals.length)); })
    .y(function (d) { return y(d); });
  plot.append("path").attr("d", meanLine(meanVals))
    .attr("fill", "none").attr("stroke", "#4a4a4a").attr("stroke-width", 1.7);
  plot.append("line").attr("x1", x0).attr("x2", x1)
    .attr("y1", y(row.tau[m])).attr("y2", y(row.tau[m]))
    .attr("stroke", "#e000d0").attr("stroke-width", 1.7).attr("stroke-dasharray", "5,3");

  if (row.base) {
    g.append("line").attr("x1", x0).attr("x2", x1).attr("y1", row.y0).attr("y2", row.y0)
      .attr("stroke", "#8c8c8c").attr("stroke-width", 1);
  }

  // y axis
  var axis = g.append("g").attr("transform", "translate(" + x0 + ",0)")
    .call(d3.axisLeft(y).tickValues(row.ticks).tickSize(5).tickPadding(3).tickFormat(d3.format("~g")));
  axis.select(".domain").remove();

  g.append("text").attr("class", "ylabel")
    .attr("transform", "translate(" + (row.lab[m] + 5) + "," + row.labY + ") rotate(-90)")
    .text("Prediction error");

  drawLegend(g, row, m, x1);

  g.append("text").attr("class", "title").attr("x", row.tx[m]).attr("y", row.titleY).text(datasets[r]);
  g.append("text").attr("class", "title").attr("x", row.tx[m]).attr("y", row.titleY + 18).text(method);
}

function drawLegend(g, row, m, x1) {
  var sx = row.sw[m], t = row.lt;
  g.append("rect").attr("x", sx - 15).attr("y", row.y1 - 1)
    .attr("width", x1 - sx + 15).attr("height", t + 88 - row.y1 + 1).attr("fill", "#fff");
  g.append("rect").attr("x", sx).attr("y", t).attr("width", 21).attr("height", 17.5).attr("fill", fills[m][0]);
  g.append("rect").attr("x", sx).attr("y", t + 22).attr("width", 21).attr("height", 17.5).attr("fill", fills[m][1]);
  g.append("text").attr("class", "ci").attr("x", sx + 22).attr("y", t + 15).text("95% CI");
  g.append("text").attr("class", "ci").attr("x", sx + 22).attr("y", t + 37).text("50% CI");
  g.append("line").attr("x1", sx).attr("x2", sx + 21).attr("y1", t + 53).attr("y2", t + 53)
    .attr("stroke", "#e000d0").attr("stroke-width", 1.7).attr("stroke-dasharray", "5,3");
  g.append("path")
    .attr("d", "M" + (sx + 25) + "," + (t + 55) + "l2,-1l3,7l2.5,-17h29")
    .attr("fill", "none").attr("stroke", "#222").attr("stroke-width", 0.9);
  var tau = g.append("text").attr("class", "tau").attr("x", sx + 33).attr("y", t + 58);
  tau.append("tspan").text("1/");
  tau.append("tspan").attr("font-style", "italic").text("τ");
  g.append("line").attr("x1", sx).attr("x2", sx + 21).attr("y1", t + 75).attr("y2", t + 75)
    .attr("stroke", "#4a4a4a").attr("stroke-width", 1.7);
  g.append("text").attr("class", "rm").attr("x", sx + 22).attr("y", t + 79).text("run mean");
}
</script>
</body>
